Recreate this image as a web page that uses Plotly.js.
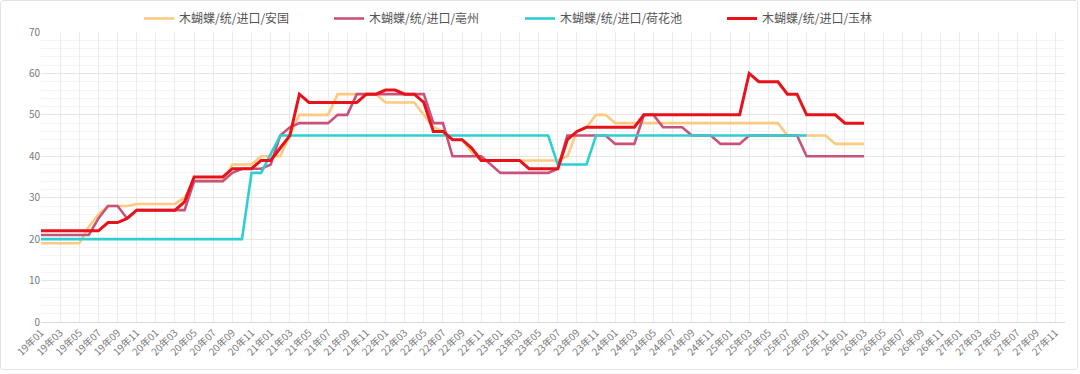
<!DOCTYPE html>
<html><head><meta charset="utf-8">
<script src="https://cdn.plot.ly/plotly-3.0.1.min.js"></script>
<style>
html,body{margin:0;padding:0;background:#fff;}
#wrap{position:relative;width:1080px;height:374px;overflow:hidden;}
#chart{position:absolute;left:0;top:0;width:1080px;height:374px;}
#frame{position:absolute;left:0;top:0;width:1078px;height:370px;border:1px solid #e3e3e3;border-radius:3px;box-sizing:border-box;pointer-events:none;}
</style></head><body>
<div id="wrap"><div id="chart"></div><div id="frame"></div></div>
<script>
// Month categories 19年01 .. 27年12
const months = [
'19年01','19年02','19年03','19年04','19年05','19年06','19年07','19年08','19年09','19年10','19年11','19年12',
'20年01','20年02','20年03','20年04','20年05','20年06','20年07','20年08','20年09','20年10','20年11','20年12',
'21年01','21年02','21年03','21年04','21年05','21年06','21年07','21年08','21年09','21年10','21年11','21年12',
'22年01','22年02','22年03','22年04','22年05','22年06','22年07','22年08','22年09','22年10','22年11','22年12',
'23年01','23年02','23年03','23年04','23年05','23年06','23年07','23年08','23年09','23年10','23年11','23年12',
'24年01','24年02','24年03','24年04','24年05','24年06','24年07','24年08','24年09','24年10','24年11','24年12',
'25年01','25年02','25年03','25年04','25年05','25年06','25年07','25年08','25年09','25年10','25年11','25年12',
'26年01','26年02','26年03','26年04','26年05','26年06','26年07','26年08','26年09','26年10','26年11','26年12',
'27年01','27年02','27年03','27年04','27年05','27年06','27年07','27年08','27年09','27年10','27年11','27年12'
];
// Tick labels shown on the axis (every other month)
const tickLabels = months.filter((m, i) => i % 2 === 0);

// Series values (monthly, starting 19年01)
const anguo = [
19,19,19,19,19,23,26,28,28,28,
28.5,28.5,28.5,28.5,28.5,30,34,34,34,34,
38,38,38,40,40,40,45,50,50,50,
50,55,55,55,55,55,53,53,53,53,
50,47,46,44,44,41,39,39,39,39,
39,39,39,39,39,40,46,47,50,50,
48,48,48,48,48,48,48,48,48,48,
48,48,48,48,48,48,48,48,45,45,
45,45,45,43,43,43,43
];
const bozhou = [
21,21,21,21,21,21,25,28,28,25,
27,27,27,27,27,27,34,34,34,34,
36,37,37,37,38,45,47,48,48,48,
48,50,50,55,55,55,55,55,55,55,
55,48,48,40,40,40,40,38,36,36,
36,36,36,36,37,45,45,45,45,45,
43,43,43,50,50,47,47,47,45,45,
45,43,43,43,45,45,45,45,45,45,
40,40,40,40,40,40,40
];
const hehuachi = [
20,20,20,20,20,20,20,20,20,20,
20,20,20,20,20,20,20,20,20,20,
20,20,36,36,40.5,45,45,45,45,45,
45,45,45,45,45,45,45,45,45,45,
45,45,45,45,45,45,45,45,45,45,
45,45,45,45,38,38,38,38,45,45,
45,45,45,45,45,45,45,45,45,45,
45,45,45,45,45,45,45,45,45,45,
45
];
const yulin = [
22,22,22,22,22,22,22,24,24,25,
27,27,27,27,27,29,35,35,35,35,
37,37,37,39,39,42,45,55,53,53,
53,53,53,53,55,55,56,56,55,55,
53,46,46,44,44,42,39,39,39,39,
39,37,37,37,37,44,46,47,47,47,
47,47,47,50,50,50,50,50,50,50,
50,50,50,50,60,58,58,58,55,55,
50,50,50,50,48,48,48
];

const seriesNames = ['木蝴蝶/统/进口/安国','木蝴蝶/统/进口/亳州','木蝴蝶/统/进口/荷花池','木蝴蝶/统/进口/玉林'];
const seriesValues = [anguo, bozhou, hehuachi, yulin];
const seriesColors = ['#FDCA7F','#C9527C','#2DCFD2','#E8121A'];
const seriesWidths = [2.6, 2.6, 2.6, 3];
const legendIds = ['legend','legend2','legend3','legend4'];
const legendX = [139, 329, 520, 722];

const FONT = '"Noto Sans CJK SC", "Noto Sans", sans-serif';

const traces = [{
  x: months, y: months.map(() => null), type: 'scatter', mode: 'lines',
  showlegend: false, hoverinfo: 'skip', line: {width: 0}
}];
seriesValues.forEach((vals, k) => {
  traces.push({
    x: months.slice(0, vals.length), y: vals,
    name: seriesNames[k], type: 'scatter', mode: 'lines',
    line: {color: seriesColors[k], width: seriesWidths[k], shape: 'linear'},
    legend: legendIds[k]
  });
});

const layout = {
  width: 1080, height: 374,
  margin: {l: 41, r: 15, t: 32, b: 52, pad: 0, autoexpand: false},
  paper_bgcolor: '#ffffff', plot_bgcolor: '#ffffff',
  font: {family: FONT, size: 11, color: '#666'},
  showlegend: true,
  xaxis: {
    type: 'category', categoryorder: 'array', categoryarray: months,
    range: [0, 107], tickmode: 'array', tickvals: tickLabels, ticktext: tickLabels,
    tickangle: -45, tickfont: {family: FONT, size: 10, color: '#777'},
    showgrid: true, gridcolor: '#ebebeb', gridwidth: 1,
    showline: true, linecolor: '#dcdcdc', linewidth: 1,
    ticks: '', zeroline: false, fixedrange: true, automargin: false
  },
  yaxis: {
    range: [0, 70], tick0: 0, dtick: 10,
    showgrid: true, gridcolor: '#e6e6e6', gridwidth: 1,
    minor: {dtick: 2, showgrid: true, gridcolor: '#f4f4f4', gridwidth: 1},
    zeroline: false, showline: false, ticks: '',
    tickfont: {family: FONT, size: 10, color: '#777'}, fixedrange: true, automargin: false
  }
};
legendIds.forEach((id, k) => {
  layout[id] = {
    x: legendX[k] / 1080, xref: 'container', xanchor: 'left',
    y: 1 - 4 / 374, yref: 'container', yanchor: 'top',
    orientation: 'h', bgcolor: 'rgba(0,0,0,0)', borderwidth: 0,
    font: {family: FONT, size: 12, color: '#555'}, itemwidth: 30
  };
});

Plotly.newPlot('chart', traces, layout, {displayModeBar: false, staticPlot: true});
</script>
</body></html>
